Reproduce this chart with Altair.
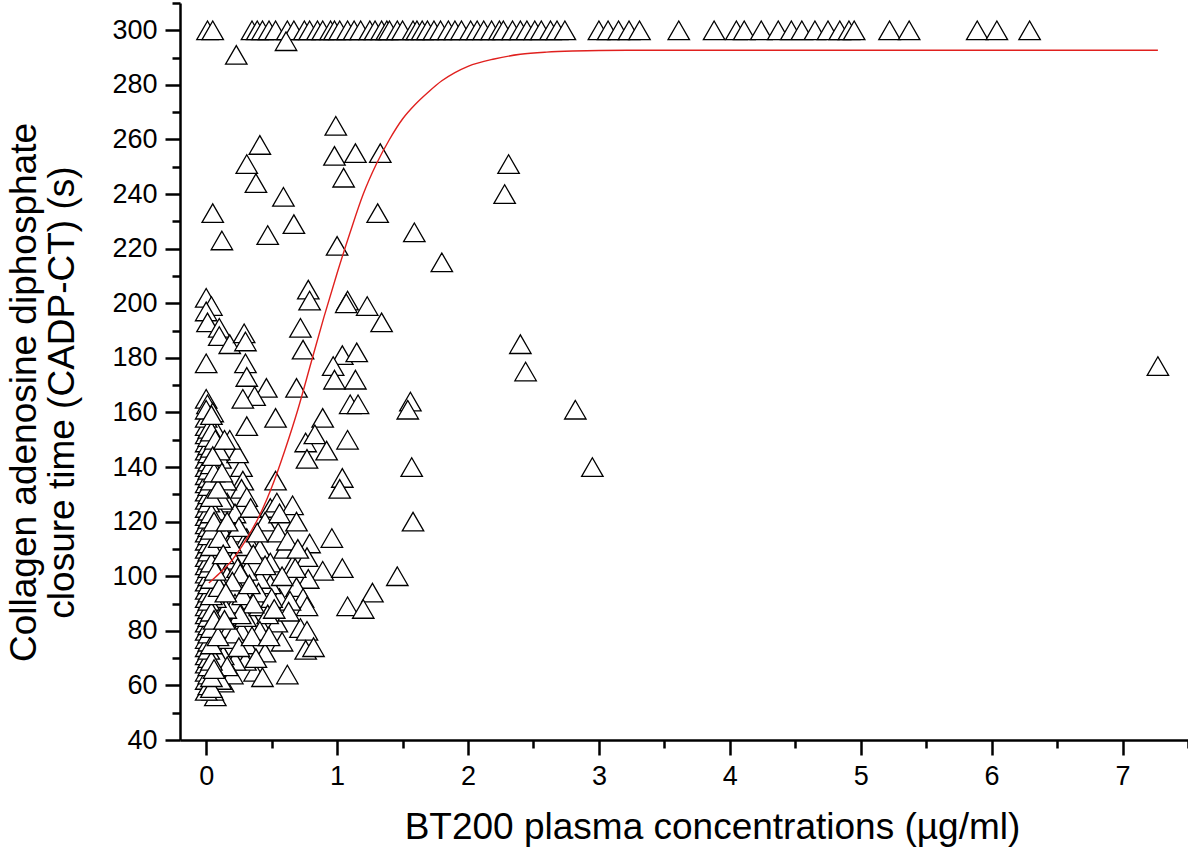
import altair as alt
import pandas as pd

# ---- data ----
top_x = [0.01, 0.05, 0.35, 0.39, 0.43, 0.48, 0.53, 0.62, 0.67, 0.75, 0.79, 0.85, 0.89,
         0.95, 0.98, 1.02, 1.08, 1.13, 1.18, 1.25, 1.29, 1.34, 1.38, 1.40, 1.46, 1.50,
         1.58, 1.61, 1.65, 1.69, 1.74, 1.79, 1.85, 1.90, 1.95, 2.02, 2.07, 2.12, 2.18,
         2.24, 2.27, 2.34, 2.40, 2.45, 2.51, 2.56, 2.63, 2.68, 2.74, 3.00, 3.07, 3.15,
         3.23, 3.31, 3.61, 3.88, 4.05, 4.11, 4.24, 4.37, 4.47, 4.55, 4.65, 4.75, 4.84,
         4.91, 4.95, 5.22, 5.37, 5.89, 6.04, 6.29]
top_y = 300

sc_x = [0.23, 0.61, 0.99, 0.98, 1.14, 1.33, 1.05, 0.41, 0.31, 0.38, 2.31, 2.28, 0.59, 0.05,
        1.31, 0.67, 1.59, 0.47, 0.12, 1.00, 1.80, 0.78, 0.79, 0.00, 0.04, 1.08, 1.07, 1.23,
        0.00, 0.01, 1.34, 0.10, 0.10, 0.18, 0.29, 0.30, 0.72, 2.40, 2.44, 0.00, 0.30, 0.74,
        1.04, 1.15, 0.97, 0.98, 1.14, 0.31, 0.46, 0.69, 0.37, 0.28, 0.00, 0.01, 1.10, 1.16,
        1.56, 1.54, 0.53, 0.89, 0.31, 2.82, 2.95, 7.27, 0.08, 0.11, 0.76, 0.83, 0.92, 0.77,
        1.08, 0.27, 0.28, 0.27, 0.53, 1.04, 1.02, 0.16, 0.31, 0.49, 0.54, 0.66, 0.08, 0.22,
        0.45, 0.56, 0.69, 0.13, 0.22, 0.31, 0.55, 0.96, 0.79, 0.41, 0.30, 0.60, 0.77, 0.09,
        0.21, 0.89, 1.04, 0.49, 0.66, 1.57, 1.58, 1.46, 1.27, 1.08, 1.20, 0.78, 0.69, 0.56,
        0.74, 0.77, 0.64, 0.49, 0.41, 0.31, 0.24, 0.12, 0.22, 0.34, 0.43, 0.54, 0.58, 0.72,
        0.77, 0.76, 0.82, 0.45, 0.37, 0.43, 0.62, 0.30, 0.22, 0.13, 0.20, 0.07, 0.08, 0.13,
        0.17, 0.31, 0.27, 0.18, 0.11, 0.30, 0.41, 0.40, 0.16, 0.24, 0.09, 0.50, 0.47, 0.63,
        0.41, 0.21, 0.26, 0.68, 0.36, 0.05]
sc_y = [291, 296, 265, 254, 255, 255, 246, 258, 251, 244, 251, 240, 239, 233,
        233, 229, 226, 225, 223, 221, 215, 205, 201, 202, 199, 201, 200, 199,
        197, 193, 193, 191, 188, 185, 189, 186, 191, 185, 175, 178, 178, 183,
        181, 182, 177, 172, 172, 173, 169, 169, 166, 165, 165, 163, 163, 163,
        164, 161, 158, 158, 155, 161, 140, 177, 153, 143, 149, 152, 146, 143,
        150, 140, 135, 132, 135, 136, 132, 127, 129, 125, 127, 126, 124, 123,
        120, 123, 120, 116, 116, 114, 116, 114, 112, 110, 111, 110, 107, 108,
        106, 102, 103, 105, 104, 140, 120, 100, 94, 89, 88, 99, 96, 92,
        92, 89, 91, 97, 99, 102, 96, 90, 90, 85, 81, 83, 76, 81,
        80, 73, 74, 72, 65, 63, 64, 69, 69, 61, 64, 56, 75, 71,
        77, 75, 80, 81, 86, 85, 89, 94, 100, 103, 99, 92, 86, 87,
        80, 79, 101, 103, 108, 58]

# extra points inside the dense low-concentration cluster
cl_x = [0.06, 0.12, 0.08, 0.15, 0.19, 0.25, 0.20, 0.28, 0.33, 0.36, 0.26, 0.15, 0.10,
        0.16, 0.25, 0.35, 0.38, 0.48, 0.52, 0.58, 0.62, 0.70, 0.45, 0.39, 0.34, 0.24,
        0.18, 0.05, 0.07, 0.11]
cl_y = [112, 128, 140, 135, 112, 118, 98, 93, 97, 90, 86, 88, 70,
        67, 74, 78, 70, 78, 88, 100, 113, 110, 104, 116, 125, 145,
        150, 160, 92, 62]

col_x = [
    0.00, 0.00, 0.00, 0.00, 0.00, 0.00, 0.00, 0.00, 0.00, 0.00, 0.00, 0.00,
    0.00, 0.00, 0.00, 0.00, 0.00, 0.00, 0.00, 0.00, 0.00, 0.00, 0.00, 0.00,
    0.00, 0.00, 0.00, 0.00, 0.00, 0.00, 0.00, 0.00, 0.00, 0.00, 0.00,
    0.02, 0.02, 0.02, 0.02, 0.02, 0.02, 0.02, 0.02, 0.02, 0.02, 0.02, 0.02,
    0.02, 0.02, 0.02, 0.02, 0.02, 0.02, 0.02, 0.02, 0.02, 0.02, 0.02, 0.02,
    0.02, 0.02, 0.02, 0.02, 0.02, 0.02, 0.02, 0.02,
    0.04, 0.04, 0.04, 0.04, 0.04, 0.04, 0.04, 0.04, 0.04, 0.04, 0.04, 0.04,
    0.04, 0.04, 0.04, 0.04, 0.04, 0.04,
    0.06, 0.09, 0.06, 0.10, 0.07, 0.10, 0.06, 0.09, 0.06, 0.10, 0.07, 0.05,
    0.14, 0.15, 0.13, 0.16, 0.12, 0.14]
col_y = [
    58, 62, 65, 68, 71, 74, 77, 80, 83, 86, 89, 92,
    95, 98, 101, 104, 107, 110, 113, 116, 119, 122, 125, 128,
    131, 134, 137, 140, 143, 146, 149, 152, 155, 158, 161,
    60, 64, 67, 70, 73, 76, 79, 82, 85, 88, 91, 94,
    97, 100, 103, 106, 109, 112, 115, 118, 121, 124, 127, 130,
    133, 136, 139, 142, 145, 148, 151, 154,
    59, 63, 69, 75, 81, 87, 93, 99, 105, 111, 117, 123,
    129, 135, 141, 147, 153, 159,
    66, 78, 84, 96, 102, 114, 120, 132, 138, 146, 150, 144,
    84, 94, 108, 120, 138, 150]

# fitted curve
curve_x = [0.02, 0.10, 0.20, 0.30, 0.40, 0.50, 0.60, 0.70, 0.80, 0.90, 1.00, 1.10,
           1.20, 1.30, 1.40, 1.50, 1.60, 1.70, 1.80, 1.90, 2.00, 2.20, 2.40, 2.60,
           2.80, 3.00, 3.50, 7.27]
curve_y = [97.5, 101, 106, 113, 121.5, 132.5, 146, 161, 178, 195, 211, 226,
           240, 251, 260, 267.5, 273, 277.5, 281.5, 284.5, 286.8, 289.5, 291.2, 292,
           292.4, 292.6, 292.7, 292.7]

x_major = [0, 1, 2, 3, 4, 5, 6, 7]
x_minor = [0.5, 1.5, 2.5, 3.5, 4.5, 5.5, 6.5, 7.5]
y_major = [40, 60, 80, 100, 120, 140, 160, 180, 200, 220, 240, 260, 280, 300]
y_minor = [50, 70, 90, 110, 130, 150, 170, 190, 210, 230, 250, 270, 290, 310]

x_title = "BT200 plasma concentrations (µg/ml)"
y_title = ["Collagen adenosine diphosphate", "closure time (CADP-CT) (s)"]

# ---- tables ----
pts = pd.DataFrame({
    "x": top_x + sc_x + cl_x + col_x,
    "y": [top_y] * len(top_x) + sc_y + cl_y + col_y,
})
curve = pd.DataFrame({"x": curve_x, "y": curve_y})

TICK_FONT = "Liberation Sans"
TITLE_FONT = "Liberation Sans"

xscale = alt.Scale(domain=[-0.2, 7.5], nice=False, zero=False)
yscale = alt.Scale(domain=[40, 310], nice=False, zero=False)

common = dict(grid=False, tickColor="black", domainColor="black", labelColor="black",
              titleColor="black", tickWidth=2.5, domainWidth=2.5)

x_axis_major = alt.Axis(values=x_major, tickSize=15, labelFontSize=27, labelFont=TICK_FONT,
                        labelPadding=8, title=x_title, titleFont=TITLE_FONT,
                        titleFontSize=37, titleFontWeight="normal", titleX=532, titleY=98,
                        titleBaseline="alphabetic", orient="bottom", format="d", **common)
y_axis_major = alt.Axis(values=y_major, tickSize=15, labelFontSize=27, labelFont=TICK_FONT,
                        labelPadding=8, title=y_title, titleFont=TITLE_FONT,
                        titleFontSize=37, titleFontWeight="normal", titleX=-174, titleY=389,
                        titleBaseline="top", titleLineHeight=38, orient="left", format="d",
                        **common)
x_axis_minor = alt.Axis(values=x_minor, tickSize=8, labels=False, domain=False, title="",
                        orient="bottom", **common)
y_axis_minor = alt.Axis(values=y_minor, tickSize=8, labels=False, domain=False, title="",
                        orient="left", **common)

points = alt.Chart(pts).mark_point(
    shape="triangle-up", size=460, filled=True, fill="white", stroke="black",
    strokeWidth=1.3, opacity=1, fillOpacity=1
).encode(
    x=alt.X("x:Q", scale=xscale, axis=x_axis_major),
    y=alt.Y("y:Q", scale=yscale, axis=y_axis_major),
)

line = alt.Chart(curve).mark_line(
    color="#e0201e", strokeWidth=1.4, interpolate="monotone"
).encode(
    x=alt.X("x:Q", scale=xscale, axis=x_axis_minor),
    y=alt.Y("y:Q", scale=yscale, axis=y_axis_minor),
)

chart = alt.layer(points, line).resolve_axis(
    x="independent", y="independent"
).properties(
    width=1008, height=737,
    padding={"left": 180, "top": 3, "right": 0, "bottom": 107},
    autosize=alt.AutoSizeParams(type="none"),
    background="white",
).configure_view(strokeWidth=0)

chart.save("out.html", embed_options={"renderer": "svg", "actions": False})
